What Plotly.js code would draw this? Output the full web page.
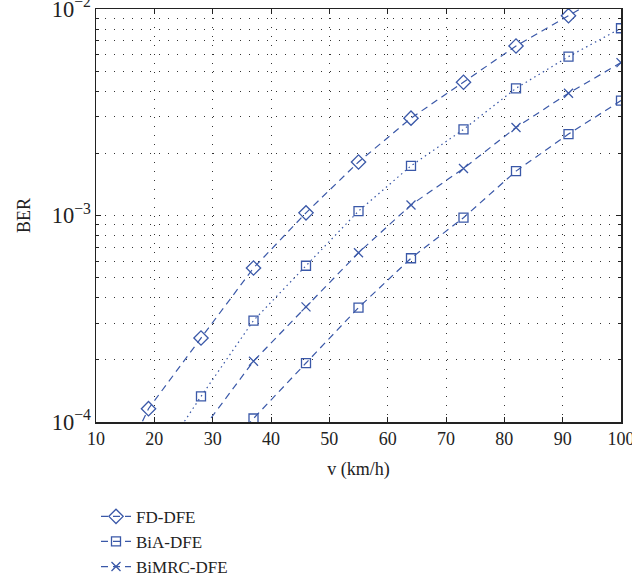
<!DOCTYPE html>
<html>
<head>
<meta charset="utf-8">
<script src="https://cdn.plot.ly/plotly-3.0.1.min.js"></script>
<style>html,body{margin:0;padding:0;background:#fff}#chart{width:632px;height:579px}</style>
</head>
<body>
<div id="chart"></div>
<script>
// Speeds v (km/h)
const speeds = [10, 19, 28, 37, 46, 55, 64, 73, 82, 91, 100];

// BER values (points outside 1e-4..1e-2 are estimated continuations)
const berFD      = [3.4e-5, 1.16e-4, 2.55e-4, 5.57e-4, 1.03e-3, 1.815e-3, 2.96e-3, 4.42e-3, 6.62e-3, 9.28e-3, 1.3e-2];
const berDotted  = [2.0e-5, 5.5e-5, 1.33e-4, 3.10e-4, 5.71e-4, 1.05e-3, 1.74e-3, 2.61e-3, 4.13e-3, 5.88e-3, 8.07e-3];
const berBiMRC   = [1.6e-5, 4.0e-5, 9.0e-5, 1.97e-4, 3.61e-4, 6.60e-4, 1.125e-3, 1.69e-3, 2.67e-3, 3.91e-3, 5.5e-3];
const berBiA     = [1.0e-5, 2.4e-5, 5.4e-5, 1.04e-4, 1.93e-4, 3.58e-4, 6.21e-4, 9.76e-4, 1.64e-3, 2.48e-3, 3.6e-3];

const seriesNames = ['FD-DFE', 'BiA-DFE', 'BiMRC-DFE'];

const blue = '#3a58a8';
const dashed = '7px,5px';
const dotted = '1.5px,3.5px';

const traces = [
  {x: speeds, y: berFD, name: seriesNames[0], mode: 'lines+markers',
   line: {color: blue, width: 1.2, dash: dashed},
   marker: {symbol: 'diamond-open', size: 11, color: blue, line: {width: 1.3, color: blue}}},
  {x: speeds, y: berDotted, name: 'BiA-DFE (dotted)', showlegend: false, mode: 'lines+markers',
   line: {color: blue, width: 1.2, dash: dotted},
   marker: {symbol: 'square-open', size: 9, color: blue, line: {width: 1.3, color: blue}}},
  {x: speeds, y: berBiA, name: seriesNames[1], mode: 'lines+markers',
   line: {color: blue, width: 1.2, dash: dashed},
   marker: {symbol: 'square-open', size: 9, color: blue, line: {width: 1.3, color: blue}}},
  {x: speeds, y: berBiMRC, name: seriesNames[2], mode: 'lines+markers',
   line: {color: blue, width: 1.2, dash: dashed},
   marker: {symbol: 'x-thin-open', size: 9, color: blue, line: {width: 1.3, color: blue}}}
];

const font = {family: 'Liberation Serif, DejaVu Serif, serif', size: 18, color: '#222'};
const gridDash = '1px,8px';

const layout = {
  width: 632, height: 579,
  margin: {l: 96, r: 11, t: 9, b: 157, autoexpand: false},
  paper_bgcolor: '#fff', plot_bgcolor: '#fff',
  font: font,
  showlegend: true,
  legend: {
    x: 0.0, xanchor: 'left', y: -0.186, yanchor: 'top',
    bgcolor: 'rgba(0,0,0,0)', borderwidth: 0,
    traceorder: 'normal', itemwidth: 30,
    font: {family: font.family, size: 17, color: '#222'}
  },
  xaxis: {
    range: [10, 100], dtick: 10, tick0: 10,
    showline: true, linecolor: '#222', linewidth: 1.5, mirror: 'ticks',
    ticks: 'inside', ticklen: 5, tickcolor: '#222',
    showgrid: true, gridcolor: '#333', gridwidth: 1, griddash: gridDash,
    zeroline: false, ticklabeloverflow: 'allow',
    tickfont: font,
    title: {text: 'v (km/h)', font: font, standoff: 14}
  },
  yaxis: {
    type: 'log', range: [-4, -2], dtick: 1,
    exponentformat: 'power', showexponent: 'all',
    showline: true, linecolor: '#222', linewidth: 1.5, mirror: 'ticks',
    ticks: 'inside', ticklen: 5, tickcolor: '#222',
    showgrid: true, gridcolor: '#333', gridwidth: 1, griddash: gridDash,
    minor: {dtick: 'D1', showgrid: true, gridcolor: '#333', gridwidth: 1, griddash: gridDash,
            ticks: 'inside', ticklen: 3, tickcolor: '#222'},
    zeroline: false, ticklabeloverflow: 'allow',
    tickfont: font,
    title: {text: 'BER', font: font, standoff: 16}
  }
};

Plotly.newPlot('chart', traces, layout, {displayModeBar: false, staticPlot: true});
</script>
</body>
</html>
